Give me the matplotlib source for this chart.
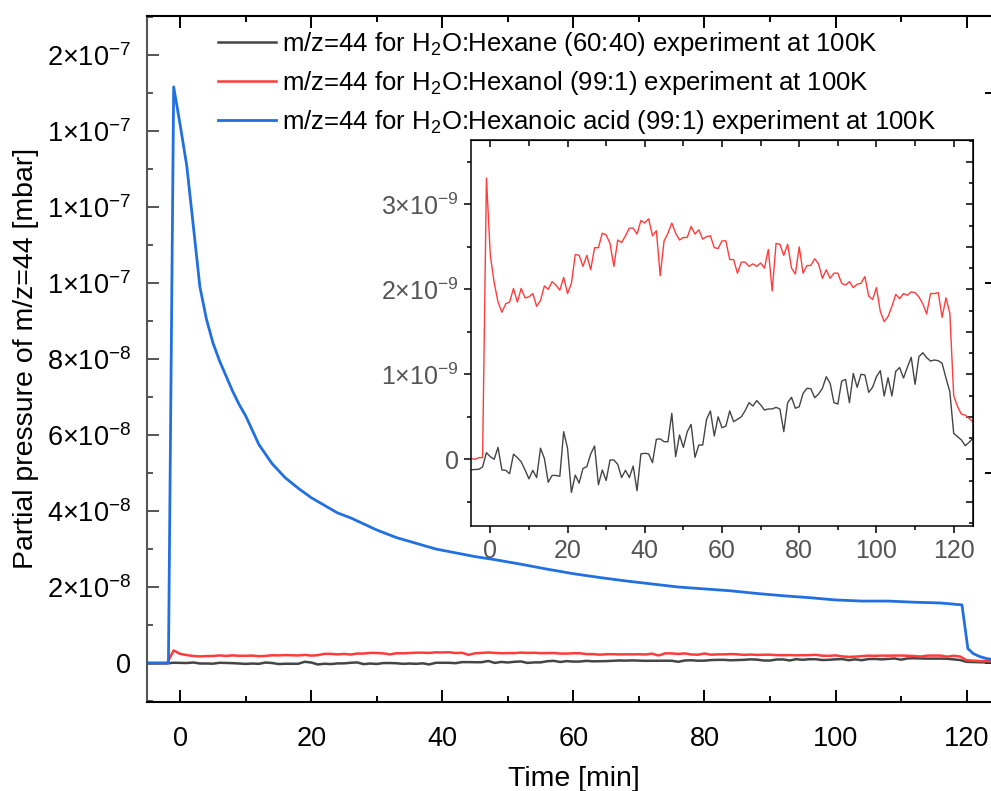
import numpy as np
import matplotlib.pyplot as plt
from matplotlib.ticker import MultipleLocator, FixedLocator, NullFormatter

plt.rcParams['font.family'] = ['Liberation Sans', 'DejaVu Sans']
plt.rcParams['mathtext.fontset'] = 'custom'
plt.rcParams['mathtext.rm'] = 'Liberation Sans'
plt.rcParams['mathtext.it'] = 'Liberation Sans:italic'
plt.rcParams['mathtext.bf'] = 'Liberation Sans:bold'

# scan times of the hexane / hexanol runs [min]
t_scan = np.arange(-5, 126)

# m/z=44 signal, H2O:Hexane (60:40) [1e-9 mbar]
hexane = [
    -0.125, -0.12, -0.118, -0.09, 0.078,                               # -5..-1
    0.031, 0.0, 0.14, -0.125, -0.13, -0.17, 0.06, 0.02, -0.03, -0.125,  # 0..9
    -0.23, -0.13, -0.215, 0.13, 0.01, -0.27, -0.19, -0.19, -0.20, 0.325,
    0.13, -0.39, -0.185, -0.28, -0.107, -0.087, 0.063, 0.157, -0.30, -0.125,
    -0.25, -0.008, -0.008, -0.06, -0.215, -0.13, -0.215, -0.08, -0.37, 0.063,
    0.071, 0.063, -0.04, 0.235, 0.24, 0.207, 0.207, 0.54, 0.031, 0.286,
    0.14, 0.325, 0.41, 0.023, 0.168, 0.168, 0.47, 0.569, 0.274, 0.50,
    0.372, 0.39, 0.569, 0.443, 0.47, 0.50, 0.572, 0.666, 0.627, 0.69,
    0.64, 0.58, 0.592, 0.592, 0.611, 0.592, 0.325, 0.666, 0.729, 0.60,
    0.619, 0.776, 0.835, 0.831, 0.725, 0.768, 0.835, 0.972, 0.894, 0.666,
    0.65, 0.92, 0.94, 0.666, 1.01, 0.847, 1.0, 0.992, 0.788, 0.847,
    0.972, 1.043, 0.745, 0.96, 0.745, 1.035, 1.08, 0.956, 1.082, 1.20,
    0.882, 1.207, 1.254, 1.196, 1.156, 1.168, 1.16, 1.129, 0.956, 0.796,
    0.305, 0.266, 0.227, 0.16, 0.20, 0.25,                              # 120..125
]

# m/z=44 signal, H2O:Hexanol (99:1) [1e-9 mbar]
hexanol = [
    0.01, 0.0, 0.02, 0.02, 3.31,
    2.40, 2.08, 1.85, 1.73, 1.83, 1.85, 2.01, 1.85, 2.01, 1.90,
    1.91, 1.95, 1.80, 1.87, 2.04, 2.00, 2.09, 2.05, 1.99, 2.14,
    1.95, 2.07, 2.41, 2.40, 2.27, 2.40, 2.23, 2.49, 2.49, 2.66,
    2.64, 2.54, 2.27, 2.58, 2.55, 2.63, 2.72, 2.72, 2.65, 2.81,
    2.78, 2.83, 2.63, 2.69, 2.16, 2.57, 2.66, 2.78, 2.66, 2.58,
    2.61, 2.61, 2.74, 2.65, 2.70, 2.59, 2.62, 2.63, 2.49, 2.48,
    2.57, 2.57, 2.35, 2.35, 2.19, 2.32, 2.32, 2.27, 2.30, 2.27,
    2.31, 2.25, 2.47, 1.98, 2.54, 2.53, 2.40, 2.53, 2.25, 2.18,
    2.50, 2.19, 2.28, 2.28, 2.36, 2.30, 2.13, 2.23, 2.13, 2.19,
    2.19, 2.07, 2.05, 2.09, 2.02, 2.06, 2.07, 2.15, 1.92, 1.88,
    2.02, 1.74, 1.62, 1.68, 1.80, 1.94, 1.89, 1.95, 1.93, 1.97,
    1.96, 1.91, 1.83, 1.71, 1.95, 1.95, 1.96, 1.67, 1.90, 1.72,
    0.75, 0.62, 0.53, 0.52, 0.48, 0.44,
]

# m/z=44 signal, H2O:Hexanoic acid (99:1) [1e-8 mbar]
t_acid = [-5, -1.8, -1.0, 0, 1, 2, 3, 4, 5, 6, 7, 8, 9, 10, 12, 14, 16, 18, 20,
          22, 24, 26, 28, 30, 33, 36, 39, 42, 45, 48, 52, 56, 60, 64, 68, 72,
          76, 80, 84, 88, 92, 96, 100, 104, 108, 112, 116, 119.3, 120.2, 121,
          122, 123, 124, 125]
acid = [0.0, 0.0, 15.16, 14.15, 13.08, 11.5, 9.9, 9.05, 8.42, 7.95, 7.55, 7.15, 6.8,
        6.5, 5.75, 5.25, 4.88, 4.6, 4.35, 4.15, 3.95, 3.82, 3.66, 3.5, 3.3, 3.15,
        3.0, 2.9, 2.8, 2.72, 2.6, 2.47, 2.35, 2.25, 2.16, 2.08, 2.0, 1.95, 1.9,
        1.83, 1.77, 1.72, 1.66, 1.63, 1.63, 1.6, 1.58, 1.53, 0.38, 0.25, 0.17,
        0.12, 0.09, 0.08]

labels = ['m/z=44 for H$_2$O:Hexane (60:40) experiment at 100K',
          'm/z=44 for H$_2$O:Hexanol (99:1) experiment at 100K',
          'm/z=44 for H$_2$O:Hexanoic acid (99:1) experiment at 100K']
colors = ['#454545', '#ff3c3c', '#2270e0']

main_yticks = [0, 2e-8, 4e-8, 6e-8, 8e-8, 1.0e-7, 1.2e-7, 1.4e-7, 1.6e-7]
main_ylabels = ['0', r'$2{\times}10^{-8}$', r'$4{\times}10^{-8}$', r'$6{\times}10^{-8}$',
                r'$8{\times}10^{-8}$', r'$1{\times}10^{-7}$', r'$1{\times}10^{-7}$',
                r'$1{\times}10^{-7}$', r'$2{\times}10^{-7}$']
inset_yticks = [0, 1e-9, 2e-9, 3e-9]
inset_ylabels = ['0', r'$1{\times}10^{-9}$', r'$2{\times}10^{-9}$', r'$3{\times}10^{-9}$']

hexane_mbar = np.array(hexane) * 1e-9
hexanol_mbar = np.array(hexanol) * 1e-9
acid_mbar = np.array(acid) * 1e-8

fig = plt.figure(figsize=(9.91, 7.91), dpi=100)
ax = fig.add_axes([0.1488, 0.1125, 0.8596, 0.8677])

ax.plot(t_scan, hexane_mbar, color=colors[0], lw=1.8, label=labels[0])
ax.plot(t_scan, hexanol_mbar, color=colors[1], lw=1.8, label=labels[1])
ax.plot(t_acid, acid_mbar, color=colors[2], lw=2.0, label=labels[2])

ax.set_xlim(-5, 125)
ax.set_ylim(-1.026e-8, 1.7034e-7)
ax.xaxis.set_major_locator(MultipleLocator(20))
ax.xaxis.set_minor_locator(MultipleLocator(10))
ax.yaxis.set_major_locator(FixedLocator(main_yticks))
ax.set_yticklabels(main_ylabels)
ax.yaxis.set_minor_locator(MultipleLocator(1e-8))
ax.tick_params(which='both', direction='in', top=True, right=False, width=1.4,
               labelsize=19.5, colors='black')
ax.tick_params(axis='y', which='both', color='#555555')
ax.tick_params(which='major', length=8.5)
ax.tick_params(which='minor', length=4.5)
ax.tick_params(axis='y', pad=12)
ax.tick_params(axis='x', pad=17)
for s in ['top', 'bottom', 'right']:
    ax.spines[s].set_linewidth(1.5)
    ax.spines[s].set_color('black')
ax.spines['left'].set_linewidth(1.5)
ax.spines['left'].set_color('#555555')

# right side ticks of the main frame (every 5e-8)
rax = ax.secondary_yaxis('right')
rax.yaxis.set_major_locator(FixedLocator([0, 5e-8, 1e-7, 1.5e-7]))
rax.yaxis.set_major_formatter(NullFormatter())
rax.tick_params(direction='in', length=10, width=1.4)

ax.set_xlabel('Time [min]', fontsize=20.5)
ax.xaxis.set_label_coords(0.5, -0.0933)
fig.text(26 / 991, 1 - 358.5 / 791, 'Partial pressure of m/z=44 [mbar]',
         rotation=90, ha='center', va='center', fontsize=20.5)

ax.legend(loc='upper left', bbox_to_anchor=(217.7 / 991, 1 - 30 / 791),
          bbox_transform=fig.transFigure, frameon=False, fontsize=18.5,
          handlelength=2.25, handletextpad=0.25, labelspacing=0.43, borderpad=0,
          borderaxespad=0)

# inset zoom on the hexane / hexanol traces
axi = fig.add_axes([471 / 991, 1 - 526 / 791, 502 / 991, 386 / 791])
axi.plot(t_scan, hexanol_mbar, color=colors[1], lw=1.0)
axi.plot(t_scan, hexane_mbar, color=colors[0], lw=1.0)
axi.set_xlim(-5, 125)
axi.set_ylim(-0.785e-9, 3.757e-9)
axi.xaxis.set_major_locator(MultipleLocator(20))
axi.xaxis.set_minor_locator(MultipleLocator(10))
axi.yaxis.set_major_locator(FixedLocator(inset_yticks))
axi.set_yticklabels(inset_ylabels)
axi.yaxis.set_minor_locator(MultipleLocator(0.5e-9))
axi.tick_params(which='both', direction='out', width=1.1, labelsize=18,
                labelcolor='#555555', pad=4)
axi.tick_params(which='major', length=5)
axi.tick_params(which='minor', length=3)
for s in axi.spines.values():
    s.set_linewidth(1.1)
    s.set_color('black')

tax = axi.secondary_xaxis('top')
tax.xaxis.set_major_locator(MultipleLocator(20))
tax.xaxis.set_minor_locator(MultipleLocator(10))
tax.xaxis.set_major_formatter(NullFormatter())
tax.tick_params(which='both', direction='in', width=1.1)
tax.tick_params(which='major', length=5)
tax.tick_params(which='minor', length=4)

rix = axi.secondary_yaxis('right')
rix.yaxis.set_major_locator(MultipleLocator(0.5e-9))
rix.yaxis.set_minor_locator(MultipleLocator(0.25e-9))
rix.yaxis.set_major_formatter(NullFormatter())
rix.tick_params(which='both', direction='in', width=1.1)
rix.tick_params(which='major', length=5)
rix.tick_params(which='minor', length=3)

fig.savefig('out.png', dpi=100)
